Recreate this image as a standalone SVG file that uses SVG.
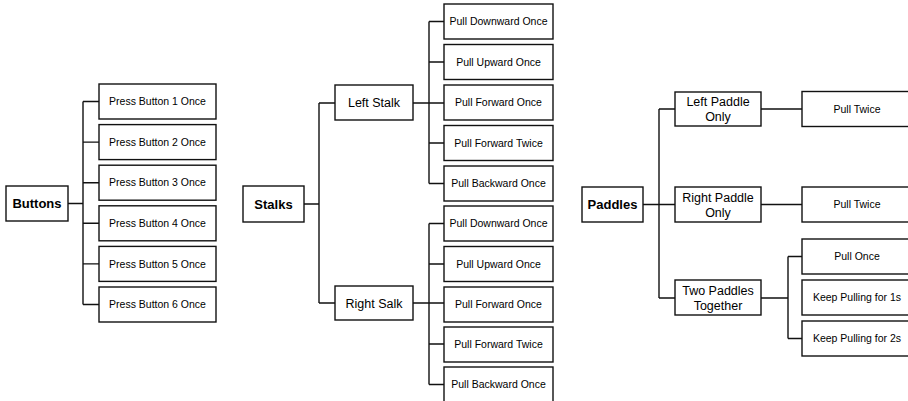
<svg xmlns="http://www.w3.org/2000/svg" width="908" height="401" viewBox="0 0 908 401">
  <style>
    rect { fill: #fff; stroke: #111; stroke-width: 1.4; }
    .wire { fill: none; stroke: #111; stroke-width: 1.4; }
    text { font-family: "Liberation Sans", Arial, Helvetica, sans-serif; fill: #000; text-anchor: middle; }
    .root { font-size: 13px; font-weight: bold; }
    .mid { font-size: 12.5px; }
    .leaf { font-size: 10.5px; }
  </style>
  <rect x="0" y="0" width="908" height="401" style="fill:#fff;stroke:none"/>

  <!-- connectors -->
  <g id="connectors" class="wire">
    <!-- Buttons tree -->
    <path d="M68 203.5H83M83 101.5V304.5M83 101.5H99M83 142.1H99M83 182.7H99M83 223.3H99M83 263.9H99M83 304.5H99"/>
    <!-- Stalks tree -->
    <path d="M304 204H319M319 103V303M319 103H335M319 303H335"/>
    <path d="M413 103H444M429 21.5V183.5M429 21.5H444M429 62H444M429 143H444M429 183.5H444"/>
    <path d="M413 303H444M429 223.5V384.5M429 223.5H444M429 264H444M429 344H444M429 384.5H444"/>
    <!-- Paddles tree -->
    <path d="M643 204.5H675M659 109V298M659 109H675M659 298H675"/>
    <path d="M761 109H802M761 204.5H802"/>
    <path d="M761 298H788M788 256.5V338.5M788 256.5H802M788 338.5H802"/>
  </g>

  <!-- Buttons -->
  <g id="buttons"><rect x="6" y="186" width="62" height="35"/><text class="root" x="37" y="208">Buttons</text></g>
  <g id="btn1"><rect x="99" y="84" width="117" height="35"/><text class="leaf" x="157.5" y="105.2">Press Button 1 Once</text></g>
  <g id="btn2"><rect x="99" y="124.6" width="117" height="35"/><text class="leaf" x="157.5" y="145.8">Press Button 2 Once</text></g>
  <g id="btn3"><rect x="99" y="165.2" width="117" height="35"/><text class="leaf" x="157.5" y="186.4">Press Button 3 Once</text></g>
  <g id="btn4"><rect x="99" y="205.8" width="117" height="35"/><text class="leaf" x="157.5" y="227">Press Button 4 Once</text></g>
  <g id="btn5"><rect x="99" y="246.4" width="117" height="35"/><text class="leaf" x="157.5" y="267.6">Press Button 5 Once</text></g>
  <g id="btn6"><rect x="99" y="287" width="117" height="35"/><text class="leaf" x="157.5" y="308.2">Press Button 6 Once</text></g>

  <!-- Stalks -->
  <g id="stalks"><rect x="243" y="186" width="61" height="36"/><text class="root" x="273.5" y="208.5">Stalks</text></g>
  <g id="left-stalk"><rect x="335" y="85" width="78" height="35"/><text class="mid" x="374" y="107">Left Stalk</text></g>
  <g id="right-stalk"><rect x="335" y="286" width="78" height="34"/><text class="mid" x="374" y="307.5">Right Salk</text></g>

  <g id="ls1"><rect x="444" y="4" width="109" height="35"/><text class="leaf" x="498.5" y="25.2">Pull Downward Once</text></g>
  <g id="ls2"><rect x="444" y="44.5" width="109" height="35"/><text class="leaf" x="498.5" y="65.7">Pull Upward Once</text></g>
  <g id="ls3"><rect x="444" y="85" width="109" height="35"/><text class="leaf" x="498.5" y="106.2">Pull Forward Once</text></g>
  <g id="ls4"><rect x="444" y="125.5" width="109" height="35"/><text class="leaf" x="498.5" y="146.7">Pull Forward Twice</text></g>
  <g id="ls5"><rect x="444" y="166" width="109" height="35"/><text class="leaf" x="498.5" y="187.2">Pull Backward Once</text></g>

  <g id="rs1"><rect x="444" y="206" width="109" height="35"/><text class="leaf" x="498.5" y="227.2">Pull Downward Once</text></g>
  <g id="rs2"><rect x="444" y="246.5" width="109" height="35"/><text class="leaf" x="498.5" y="267.7">Pull Upward Once</text></g>
  <g id="rs3"><rect x="444" y="287" width="109" height="35"/><text class="leaf" x="498.5" y="308.2">Pull Forward Once</text></g>
  <g id="rs4"><rect x="444" y="327" width="109" height="35"/><text class="leaf" x="498.5" y="348.2">Pull Forward Twice</text></g>
  <g id="rs5"><rect x="444" y="367" width="109" height="35"/><text class="leaf" x="498.5" y="388.2">Pull Backward Once</text></g>

  <!-- Paddles -->
  <g id="paddles"><rect x="582" y="187" width="61" height="35"/><text class="root" x="612.5" y="209">Paddles</text></g>
  <g id="left-paddle"><rect x="675" y="92" width="86" height="34"/><text class="mid" x="718" y="106">Left Paddle</text><text class="mid" x="718" y="121">Only</text></g>
  <g id="right-paddle"><rect x="675" y="187" width="86" height="35"/><text class="mid" x="718" y="201.5">Right Paddle</text><text class="mid" x="718" y="216.5">Only</text></g>
  <g id="two-paddles"><rect x="675" y="280" width="86" height="35"/><text class="mid" x="718" y="294.5">Two Paddles</text><text class="mid" x="718" y="309.5">Together</text></g>

  <g id="lp1"><rect x="802" y="91.5" width="112" height="35"/><text class="leaf" x="857" y="112.7">Pull Twice</text></g>
  <g id="rp1"><rect x="802" y="187" width="112" height="35"/><text class="leaf" x="857" y="208.2">Pull Twice</text></g>
  <g id="tp1"><rect x="802" y="239" width="112" height="35"/><text class="leaf" x="857" y="260.2">Pull Once</text></g>
  <g id="tp2"><rect x="802" y="280" width="112" height="35"/><text class="leaf" x="857" y="301.2">Keep Pulling for 1s</text></g>
  <g id="tp3"><rect x="802" y="321" width="112" height="35"/><text class="leaf" x="857" y="342.2">Keep Pulling for 2s</text></g>
</svg>
